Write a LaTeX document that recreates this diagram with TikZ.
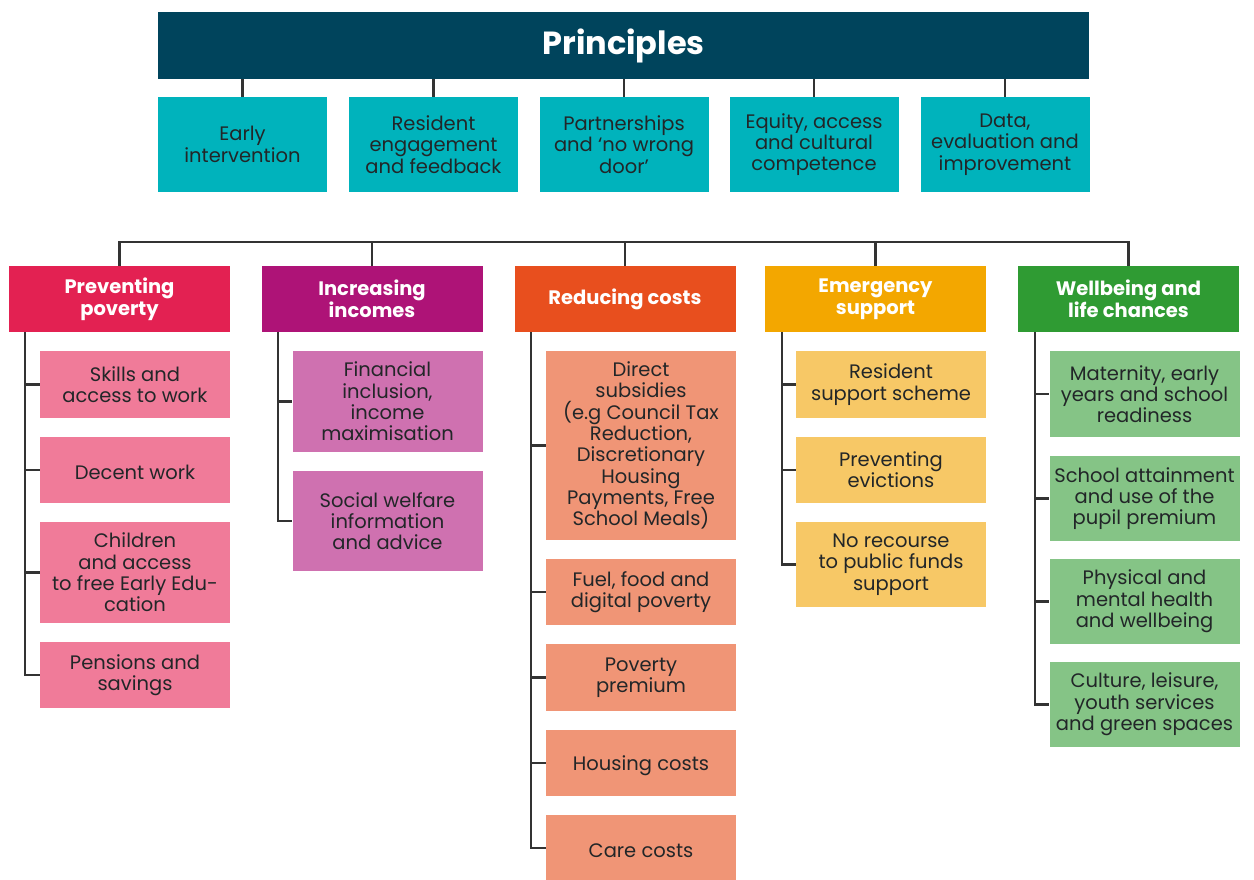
\documentclass[tikz,border=0pt]{standalone}
\usepackage{fontspec}
\setmainfont{Poppins}
\definecolor{navy}{HTML}{00445C}
\definecolor{teal}{HTML}{00B3BC}
\definecolor{txt}{HTML}{222628}
\definecolor{lineC}{HTML}{333333}
\definecolor{ppD}{HTML}{E32152}
\definecolor{ppL}{HTML}{F07B99}
\definecolor{iiD}{HTML}{AE1377}
\definecolor{iiL}{HTML}{CF71B0}
\definecolor{rcD}{HTML}{E84F1E}
\definecolor{rcL}{HTML}{F09576}
\definecolor{esD}{HTML}{F3A700}
\definecolor{esL}{HTML}{F7C866}
\definecolor{wbD}{HTML}{2F9B33}
\definecolor{wbL}{HTML}{85C486}
\newcommand\myboxfont{\fontsize{19.5}{21.3}\selectfont\lineskiplimit=-30pt\relax}
\newcommand\myhdrfont{\fontsize{19.5}{21.8}\selectfont\bfseries\lineskiplimit=-30pt\relax}
\tikzset{
  box/.style={rectangle, inner sep=0pt, align=center, text=txt,
    font=\myboxfont,
    execute at begin node={\rule{0pt}{19.5pt}}},
  prbox/.style={box, fill=teal, minimum width=169, minimum height=95},
  hdr/.style={rectangle, inner sep=0pt, align=center, text=white,
    font=\myhdrfont, minimum width=221, minimum height=66},
  sub/.style={box, minimum width=190},
  conn/.style={draw=lineC, line width=2.2}
}
\begin{document}
\begin{tikzpicture}[x=1pt,y=-1pt]
\useasboundingbox (0,0) rectangle (1254,879);
\clip (0,0) rectangle (1254,879);
\fill[white] (0,0) rectangle (1254,879);
% Principles
\node[rectangle, fill=navy, minimum width=931, minimum height=67, inner sep=0pt,
  text=white, font=\fontsize{32}{34}\selectfont\bfseries] (prin) at (623.5,45.5) {Principles};
\node[prbox] (p1) at (242.5,144.5) {Early\\intervention};
\node[prbox] (p2) at (433.5,144.5) {Resident\\engagement\\and feedback};
\node[prbox] (p3) at (624,144.5) {Partnerships\\and ‘no wrong\\door’};
\node[prbox] (p4) at (814,144.5) {Equity, access\\and cultural\\competence};
\node[prbox] (p5) at (1005,144.5) {Data,\\evaluation and\\improvement};
\foreach \p in {p1,p2,p3,p4,p5} \draw[conn] (prin.south -| \p.north) -- (\p.north);
% headers
\node[hdr, fill=ppD] (ppH) at (119.5,299) {Preventing\\poverty};
\node[hdr, fill=iiD] (iiH) at (372,299) {Increasing\\incomes};
\node[hdr, fill=rcD] (rcH) at (625,299) {Reducing costs};
\node[hdr, fill=esD] (esH) at (875.5,299) {Emergency\\support};
\node[hdr, fill=wbD] (wbH) at (1128.5,299) {Wellbeing and\\life chances};
\coordinate (bus) at (0,242);
\draw[conn] (ppH.north) -- (ppH.north |- bus) -- (wbH.north |- bus) -- (wbH.north);
\foreach \h in {iiH,rcH,esH} \draw[conn] (\h.north |- bus) -- (\h.north);
% Preventing poverty
\node[sub, fill=ppL, minimum height=67] (pp1) at (135,384.5) {Skills and\\access to work};
\node[sub, fill=ppL, minimum height=66] (pp2) at (135,470) {Decent work};
\node[sub, fill=ppL, minimum height=101] (pp3) at (135,572.5) {Children\\and access\\to free Early Edu-\\cation};
\node[sub, fill=ppL, minimum height=66] (pp4) at (135,675) {Pensions and\\savings};
\coordinate (ppT) at (25,332);
\draw[conn] (ppT) |- (pp4.west);
\foreach \s in {pp1,pp2,pp3} \draw[conn] (ppT |- \s.west) -- (\s.west);
% Increasing incomes
\node[sub, fill=iiL, minimum height=101] (ii1) at (387.5,401.5) {Financial\\inclusion,\\income\\maximisation};
\node[sub, fill=iiL, minimum height=100] (ii2) at (387.5,521) {Social welfare\\information\\and advice};
\coordinate (iiT) at (278,332);
\draw[conn] (iiT) |- (ii2.west);
\draw[conn] (iiT |- ii1.west) -- (ii1.west);
% Reducing costs
\node[sub, fill=rcL, minimum height=189] (rc1) at (641,445.5) {Direct\\subsidies\\(e.g Council Tax\\Reduction,\\Discretionary\\Housing\\Payments, Free\\School Meals)};
\node[sub, fill=rcL, minimum height=66] (rc2) at (641,592) {Fuel, food and\\digital poverty};
\node[sub, fill=rcL, minimum height=67] (rc3) at (641,677.5) {Poverty\\premium};
\node[sub, fill=rcL, minimum height=66] (rc4) at (641,763) {Housing costs};
\node[sub, fill=rcL, minimum height=66] (rc5) at (641,848) {Care costs};
\coordinate (rcT) at (531,332);
\draw[conn] (rcT) |- (rc5.west);
\foreach \s in {rc1,rc2,rc3,rc4} \draw[conn] (rcT |- \s.west) -- (\s.west);
% Emergency support
\node[sub, fill=esL, minimum height=67] (es1) at (891,384.5) {Resident\\support scheme};
\node[sub, fill=esL, minimum height=66] (es2) at (891,470) {Preventing\\evictions};
\node[sub, fill=esL, minimum height=85] (es3) at (891,564.5) {No recourse\\to public funds\\support};
\coordinate (esT) at (782,332);
\draw[conn] (esT) |- (es3.west);
\foreach \s in {es1,es2} \draw[conn] (esT |- \s.west) -- (\s.west);
% Wellbeing
\node[sub, fill=wbL, minimum height=86] (wb1) at (1144.5,394) {Maternity, early\\years and school\\readiness};
\node[sub, fill=wbL, minimum height=85] (wb2) at (1144.5,498.5) {School attainment\\and use of the\\pupil premium};
\node[sub, fill=wbL, minimum height=85] (wb3) at (1144.5,601.5) {Physical and\\mental health\\and wellbeing};
\node[sub, fill=wbL, minimum height=85] (wb4) at (1144.5,704.5) {Culture, leisure,\\youth services\\and green spaces};
\coordinate (wbT) at (1035,332);
\draw[conn] (wbT) |- (wb4.west);
\foreach \s in {wb1,wb2,wb3} \draw[conn] (wbT |- \s.west) -- (\s.west);
\end{tikzpicture}
\end{document}
